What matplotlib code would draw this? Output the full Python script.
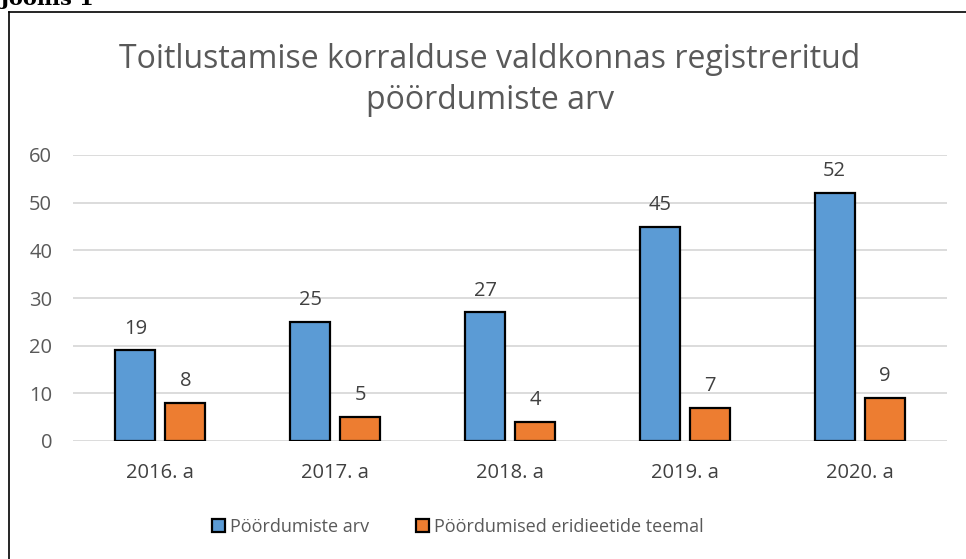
import matplotlib.pyplot as plt
from matplotlib.lines import Line2D
from matplotlib.patches import Patch
import numpy as np

categories = ["2016. a", "2017. a", "2018. a", "2019. a", "2020. a"]
poordumiste_arv = [19, 25, 27, 45, 52]
eridieetide_teemal = [8, 5, 4, 7, 9]
series_names = ["Pöördumiste arv", "Pöördumised eridieetide teemal"]
yticks = [0, 10, 20, 30, 40, 50, 60]

plt.rcParams['font.family'] = ['Open Sans', 'DejaVu Sans']

W, H = 966, 559
fig = plt.figure(figsize=(W / 100, H / 100), dpi=100)
ax = fig.add_axes([73 / W, 1 - 441 / H, (947 - 73) / W, (441 - 155) / H])

x = np.arange(len(categories))
bw = 0.229
off = 0.143
blue = "#5B9BD5"
orange = "#ED7D31"
b1 = ax.bar(x - off, poordumiste_arv, bw, color=blue, edgecolor="black", linewidth=1.6, zorder=3)
b2 = ax.bar(x + off, eridieetide_teemal, bw, color=orange, edgecolor="black", linewidth=1.6, zorder=3)

for bars, vals in ((b1, poordumiste_arv), (b2, eridieetide_teemal)):
    for r, v in zip(bars, vals):
        ax.annotate(str(v), (r.get_x() + r.get_width() / 2, v), xytext=(0, 12),
                    textcoords="offset points", ha="center", va="baseline",
                    fontsize=14.5, color="#404040")

ax.set_xlim(-0.5, len(categories) - 0.5)
ax.set_ylim(0, 60)
ax.set_yticks(yticks)
ax.set_xticks(x)
ax.set_xticklabels(categories)
ax.grid(axis="y", color="#D9D9D9", linewidth=1.3, zorder=0)
for s in ax.spines.values():
    s.set_visible(False)
ax.tick_params(length=0, labelsize=14.5, labelcolor="#595959")
ax.tick_params(axis="y", pad=15)
ax.tick_params(axis="x", pad=16, labelcolor="#404040")

fig.text(490 / W, 1 - 80 / H, "Toitlustamise korralduse valdkonnas registreritud\npöördumiste arv",
         ha="center", va="center", fontsize=23, color="#595959", linespacing=1.35)

handles = [Patch(facecolor=blue, edgecolor="black", linewidth=1.6),
           Patch(facecolor=orange, edgecolor="black", linewidth=1.6)]
fig.legend(handles, series_names, loc="center", bbox_to_anchor=(458 / W, 1 - 527 / H),
           ncol=2, frameon=False, fontsize=13, handlelength=0.7, handleheight=0.7,
           handletextpad=0.3, columnspacing=2.6, labelcolor="#595959")

# outer chart frame
fig.add_artist(Line2D([9 / W, 9 / W], [0, 1 - 12 / H], color="black", linewidth=1.2))
fig.add_artist(Line2D([9 / W, 1], [1 - 12 / H, 1 - 12 / H], color="black", linewidth=1.2))

fig.text(0, 1 - 5 / H, "Joonis 1", ha="left", va="baseline", fontsize=15,
         fontweight="bold", family="DejaVu Serif", color="black")

fig.savefig("out.png", dpi=100)
